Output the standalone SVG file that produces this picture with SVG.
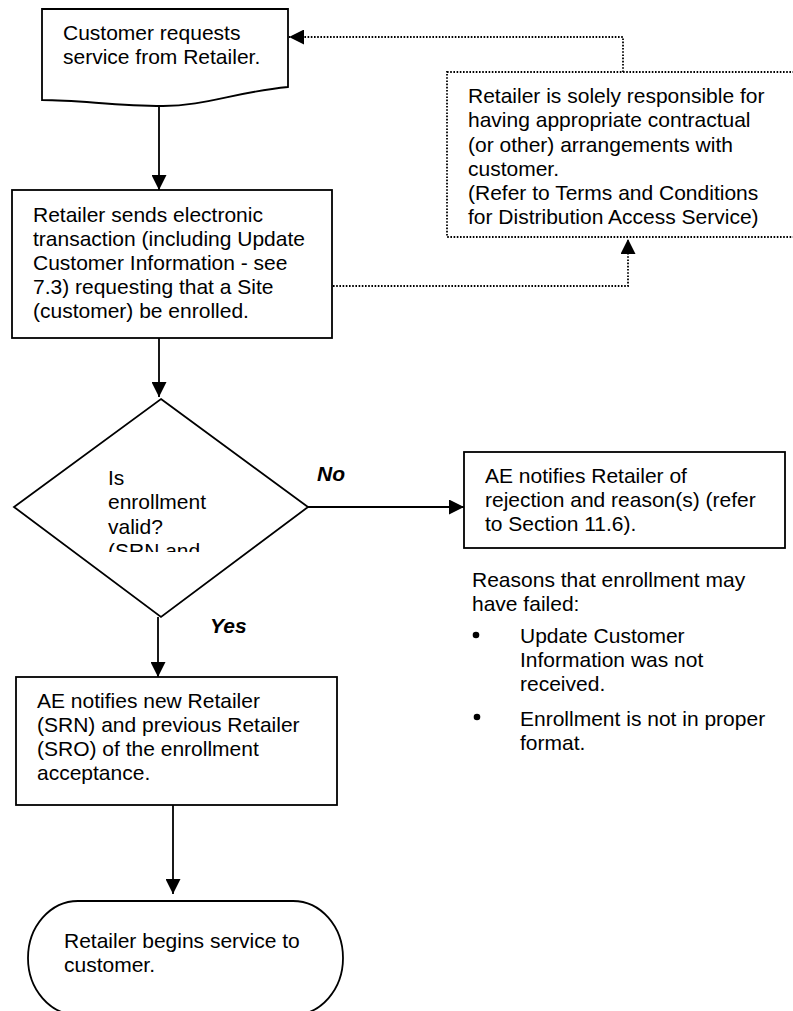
<svg xmlns="http://www.w3.org/2000/svg" width="793" height="1011" viewBox="0 0 793 1011">
<style>
text{font-family:"Liberation Sans",Arial,sans-serif;font-size:21px;fill:#000}
.lbl{font-weight:bold;font-style:italic}
.shape{fill:#fff;stroke:#000;stroke-width:1.8}
.dshape{fill:#fff;stroke:#000;stroke-width:1.8;stroke-dasharray:1.6 1.6}
.line{fill:none;stroke:#000;stroke-width:1.8}
.dline{fill:none;stroke:#000;stroke-width:1.8;stroke-dasharray:1.6 1.6}
</style>
<defs>
<marker id="arr" viewBox="0 0 15 15" refX="15" refY="7.5" markerWidth="15" markerHeight="15" markerUnits="userSpaceOnUse" orient="auto">
<path d="M0,0 L15,7.5 L0,15 z" fill="#000"/>
</marker>
<clipPath id="dclip"><rect x="95" y="460" width="140" height="92"/></clipPath>
</defs>
<g id="connectors">
<path class="line" d="M159,105 V190" marker-end="url(#arr)"/>
<path class="line" d="M159,338 V397" marker-end="url(#arr)"/>
<path class="line" d="M308,507 H464" marker-end="url(#arr)"/>
<path class="line" d="M158,617 V677" marker-end="url(#arr)"/>
<path class="line" d="M173,805 V894" marker-end="url(#arr)"/>
<path class="dline" d="M623,72 V37 H289" marker-end="url(#arr)"/>
<path class="dline" d="M333,286 H628 V239" marker-end="url(#arr)"/>
<text class="lbl" x="317" y="481">No</text>
<text class="lbl" x="210" y="633">Yes</text>
</g>
<g id="n1">
<path class="shape" d="M42,9 H288 V87 C235,92 205,106 163,106 C115,106 80,100 42,100 Z"/>
<text x="63" y="40">Customer requests</text>
<text x="63" y="64">service from Retailer.</text>
</g>
<g id="n2">
<rect class="dshape" x="447" y="72" width="360" height="165"/>
<text x="468" y="103">Retailer is solely responsible for</text>
<text x="468" y="127">having appropriate contractual</text>
<text x="468" y="152">(or other) arrangements with</text>
<text x="468" y="176">customer.</text>
<text x="468" y="200">(Refer to Terms and Conditions</text>
<text x="468" y="224">for Distribution Access Service)</text>
</g>
<g id="n3">
<rect class="shape" x="12" y="190" width="320" height="148"/>
<text x="33" y="222">Retailer sends electronic</text>
<text x="33" y="246">transaction (including Update</text>
<text x="33" y="270">Customer Information - see</text>
<text x="33" y="294">7.3) requesting that a Site</text>
<text x="33" y="318">(customer) be enrolled.</text>
</g>
<g id="n4">
<path class="shape" d="M161,399 L308,507 L161,617 L14,507 Z"/>
<g clip-path="url(#dclip)">
<text x="108" y="485">Is</text>
<text x="108" y="509">enrollment</text>
<text x="108" y="534">valid?</text>
<text x="108" y="558">(SRN and</text>
</g>
</g>
<g id="n5">
<rect class="shape" x="464" y="452" width="321" height="96"/>
<text x="485" y="483">AE notifies Retailer of</text>
<text x="485" y="507">rejection and reason(s) (refer</text>
<text x="485" y="531">to Section 11.6).</text>
</g>
<g id="n6">
<text x="472" y="587">Reasons that enrollment may</text>
<text x="472" y="611">have failed:</text>
<circle cx="476" cy="635" r="3.3" fill="#000"/>
<text x="520" y="643">Update Customer</text>
<text x="520" y="667">Information was not</text>
<text x="520" y="691">received.</text>
<circle cx="477" cy="717" r="3.3" fill="#000"/>
<text x="520" y="726">Enrollment is not in proper</text>
<text x="520" y="750">format.</text>
</g>
<g id="n7">
<rect class="shape" x="16" y="677" width="321" height="128"/>
<text x="37" y="708">AE notifies new Retailer</text>
<text x="37" y="732">(SRN) and previous Retailer</text>
<text x="37" y="756">(SRO) of the enrollment</text>
<text x="37" y="780">acceptance.</text>
</g>
<g id="n8">
<rect class="shape" x="28" y="901" width="315" height="114" rx="50" ry="57"/>
<text x="64" y="948">Retailer begins service to</text>
<text x="64" y="972">customer.</text>
</g>
</svg>
